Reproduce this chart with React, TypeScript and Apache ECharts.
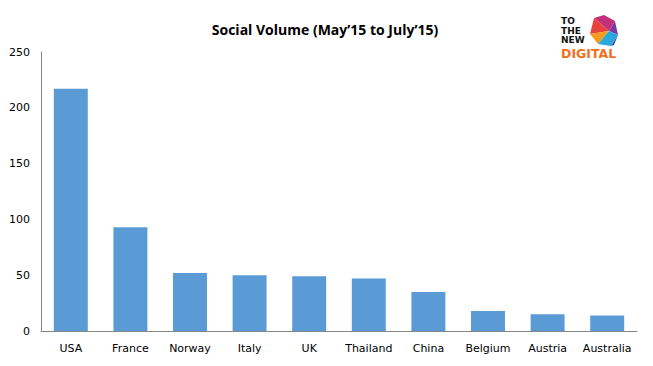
import React, { useEffect, useRef } from "react";
import * as echarts from "echarts";

const categories = ["USA", "France", "Norway", "Italy", "UK", "Thailand", "China", "Belgium", "Austria", "Australia"];
const values = [217, 93, 52, 50, 49, 47, 35, 18, 15, 14];
const yTicks = [0, 50, 100, 150, 200, 250];
const title = "Social Volume (May\u201915 to July\u201915)";

export default function App() {
  const ref = useRef<HTMLDivElement>(null);
  useEffect(() => {
    if (!ref.current) return;
    const chart = echarts.init(ref.current, null, { renderer: "svg" });
    const font = "DejaVu Sans";
    chart.setOption({
      animation: false,
      title: {
        text: title,
        left: 320,
        top: 17,
        textAlign: "center",
        textStyle: { fontFamily: "Open Sans", fontSize: 14, fontWeight: "bold", color: "#000" },
      },
      grid: { left: 41, right: 16, top: 52, bottom: 35 },
      xAxis: {
        type: "category",
        data: categories,
        axisLine: { lineStyle: { color: "#868686", width: 1 } },
        axisTick: { show: false },
        axisLabel: { fontFamily: font, fontSize: 11, color: "#000", margin: 12, interval: 0 },
      },
      yAxis: {
        type: "value",
        min: yTicks[0],
        max: yTicks[yTicks.length - 1],
        interval: 50,
        axisLine: { show: true, lineStyle: { color: "#868686", width: 1 } },
        axisTick: { show: false },
        splitLine: { show: false },
        axisLabel: { fontFamily: font, fontSize: 11, color: "#000", margin: 11 },
      },
      series: [
        {
          type: "bar",
          data: values,
          barCategoryGap: "43%",
          itemStyle: { color: "#5B9BD5" },
        },
      ],
      graphic: [
        {
          type: "group",
          left: 561,
          top: 15,
          children: [
            { type: "text", x: 0, y: 1.5, style: { text: "TO", fontFamily: "DejaVu Sans", fontWeight: "bold", fontSize: 9, fill: "#111" } },
            { type: "text", x: 0, y: 11, style: { text: "THE", fontFamily: "DejaVu Sans", fontWeight: "bold", fontSize: 9, fill: "#111" } },
            { type: "text", x: 0, y: 20.5, style: { text: "NEW", fontFamily: "DejaVu Sans", fontWeight: "bold", fontSize: 9, fill: "#111" } },
            { type: "text", x: 0, y: 32, style: { text: "DIGITAL", fontFamily: "DejaVu Sans", fontWeight: "bold", fontSize: 12.5, fill: "#F26F21" } },
            { type: "polygon", shape: { points: [[33, 3], [43, 0], [54, 6], [48, 16]] }, style: { fill: "#C2307A" } },
            { type: "polygon", shape: { points: [[33, 3], [48, 16], [29, 19]] }, style: { fill: "#E8423C" } },
            { type: "polygon", shape: { points: [[29, 19], [48, 16], [37, 29]] }, style: { fill: "#F49A1C" } },
            { type: "polygon", shape: { points: [[54, 6], [57, 20], [48, 16]] }, style: { fill: "#7A3BA0" } },
            { type: "polygon", shape: { points: [[48, 16], [57, 20], [50, 31], [37, 29]] }, style: { fill: "#29A8E0" } },
            { type: "polygon", shape: { points: [[57, 20], [53, 30], [50, 31]] }, style: { fill: "#3A4DA8" } },
          ],
        },
      ],
    });
    return () => chart.dispose();
  }, []);
  return <div ref={ref} style={{ width: 653, height: 366, position: "absolute", left: 0, top: 0 }} />;
}
